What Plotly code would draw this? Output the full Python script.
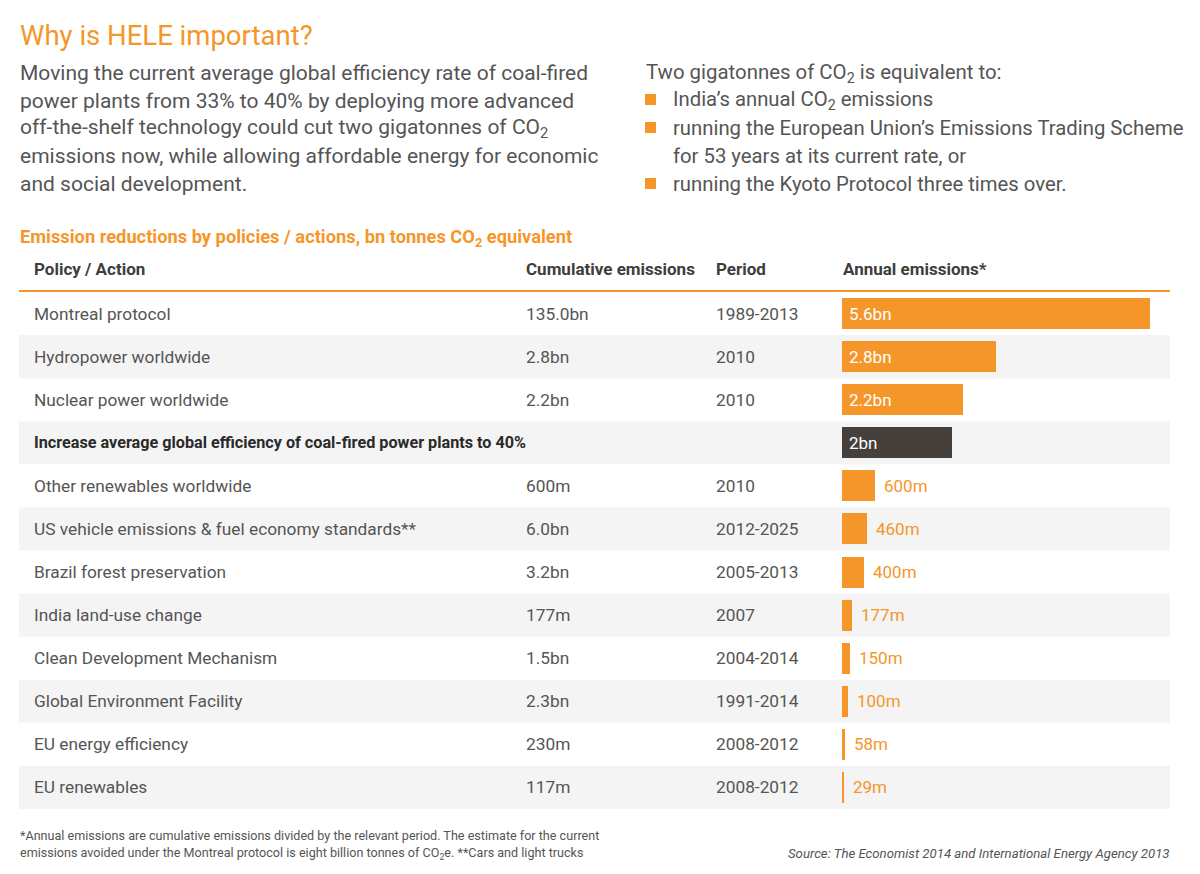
import plotly.graph_objects as go

W, H = 1200, 874

policies = [
    "Montreal protocol",
    "Hydropower worldwide",
    "Nuclear power worldwide",
    "Increase average global efficiency of coal-fired power plants to 40%",
    "Other renewables worldwide",
    "US vehicle emissions & fuel economy standards**",
    "Brazil forest preservation",
    "India land-use change",
    "Clean Development Mechanism",
    "Global Environment Facility",
    "EU energy efficiency",
    "EU renewables",
]
cumulative = ["135.0bn", "2.8bn", "2.2bn", "", "600m", "6.0bn", "3.2bn", "177m",
              "1.5bn", "2.3bn", "230m", "117m"]
periods = ["1989-2013", "2010", "2010", "", "2010", "2012-2025", "2005-2013", "2007",
           "2004-2014", "1991-2014", "2008-2012", "2008-2012"]
annual = [5.6, 2.8, 2.2, 2.0, 0.6, 0.46, 0.4, 0.177, 0.15, 0.1, 0.058, 0.029]
annual_labels = ["5.6bn", "2.8bn", "2.2bn", "2bn", "600m", "460m", "400m", "177m",
                 "150m", "100m", "58m", "29m"]
highlight = 3

ORANGE = "#F5962A"
DARK = "#45403B"
TEXT = "#555555"
HEAD = "#3d3d3d"
BAND = "#F4F4F4"
FONT = "Roboto"


def px(x):
    return x / W


def py(y):
    return 1 - y / H


rows = list(range(len(policies)))
bar_colors = [DARK if i == highlight else ORANGE for i in rows]

fig = go.Figure()
fig.add_trace(go.Bar(
    x=annual, y=rows, orientation="h", width=0.72,
    marker=dict(color=bar_colors, line=dict(width=0)),
    hoverinfo="skip", showlegend=False,
))

table_top, table_bot = 292, 809
x_left_px = 842
px_per_bn = 55.0

fig.update_layout(
    width=W, height=H,
    margin=dict(l=0, r=0, t=0, b=0),
    paper_bgcolor="white", plot_bgcolor="rgba(0,0,0,0)",
    font=dict(family=FONT, color=TEXT),
    xaxis=dict(domain=[px(x_left_px), 1], range=[0, (W - x_left_px) / px_per_bn],
               visible=False, fixedrange=True),
    yaxis=dict(domain=[py(table_bot), py(table_top)], range=[len(rows) - 0.5, -0.5],
               visible=False, fixedrange=True),
    bargap=0,
)

shapes = []
# row bands
for i in rows:
    if i % 2 == 1:
        shapes.append(dict(type="rect", xref="paper", yref="y",
                           x0=px(19), x1=px(1170), y0=i - 0.5, y1=i + 0.5,
                           fillcolor=BAND, line=dict(width=0), layer="below"))
# header line
shapes.append(dict(type="line", xref="paper", yref="paper",
                   x0=px(19), x1=px(1170), y0=py(291), y1=py(291),
                   line=dict(color=ORANGE, width=2)))
# bullets
for yb in [100, 128, 184]:
    shapes.append(dict(type="rect", xref="paper", yref="paper",
                       x0=px(645), x1=px(656), y0=py(yb - 6), y1=py(yb + 5),
                       fillcolor=ORANGE, line=dict(width=0)))

ann = []


def text(x, y, s, size, color=TEXT, anchor="left", bold=False, italic=False, family=FONT):
    if bold:
        s = "<b>" + s + "</b>"
    if italic:
        s = "<i>" + s + "</i>"
    ann.append(dict(x=px(x), y=py(y), xref="paper", yref="paper", text=s,
                    showarrow=False, xanchor=anchor, yanchor="middle",
                    font=dict(size=size, color=color, family=family)))


text(18, 35, "Why is HELE important?", 27.5, ORANGE)
body = [
    "Moving the current average global efficiency rate of coal-fired",
    "power plants from 33% to 40% by deploying more advanced",
    "off-the-shelf technology could cut two gigatonnes of CO<sub>2</sub>",
    "emissions now, while allowing affordable energy for economic",
    "and social development.",
]
for k, line in enumerate(body):
    text(18, 73 + k * 27.7, line, 21)

text(644, 73, "Two gigatonnes of CO<sub>2</sub> is equivalent to:", 20.4)
right = [
    (671, 100, "India’s annual CO<sub>2</sub> emissions"),
    (671, 128, "running the European Union’s Emissions Trading Scheme"),
    (671, 156, "for 53 years at its current rate, or"),
    (671, 184, "running the Kyoto Protocol three times over."),
]
for x, y, s in right:
    text(x, y, s, 20.3)

text(18, 238, "Emission reductions by policies / actions, bn tonnes CO<sub>2</sub> equivalent",
     18.3, ORANGE, bold=True)
text(32, 269, "Policy / Action", 17, HEAD, bold=True)
text(524, 269, "Cumulative emissions", 17, HEAD, bold=True)
text(714, 269, "Period", 17, HEAD, bold=True)
text(841, 269, "Annual emissions*", 17, HEAD, bold=True)

for i in rows:
    is_h = i == highlight
    ann.append(dict(x=px(32), y=i, xref="paper", yref="y",
                    text=("<b>" + policies[i] + "</b>") if is_h else policies[i],
                    showarrow=False, xanchor="left", yanchor="middle",
                    font=dict(size=16.2 if is_h else 17.3, color="#2a2a2a" if is_h else TEXT)))
    if cumulative[i]:
        ann.append(dict(x=px(524), y=i, xref="paper", yref="y", text=cumulative[i],
                        showarrow=False, xanchor="left", yanchor="middle",
                        font=dict(size=17.3, color=TEXT)))
    if periods[i]:
        ann.append(dict(x=px(714), y=i, xref="paper", yref="y", text=periods[i],
                        showarrow=False, xanchor="left", yanchor="middle",
                        font=dict(size=17.3, color=TEXT)))
    inside = annual[i] >= 2.0
    ann.append(dict(x=0 if inside else annual[i], y=i, xref="x", yref="y",
                    text=annual_labels[i], showarrow=False, xanchor="left",
                    yanchor="middle", xshift=5 if inside else 7,
                    font=dict(size=17, color="white" if inside else ORANGE)))

text(18, 835, "*Annual emissions are cumulative emissions divided by the relevant period. "
     "The estimate for the current", 12.6)
text(18, 853, "emissions avoided under the Montreal protocol is eight billion tonnes of "
     "CO<sub>2</sub>e. **Cars and light trucks", 12.6)
text(1172, 853, "Source: The Economist 2014 and International Energy Agency 2013", 13.2,
     anchor="right", italic=True)

fig.update_layout(shapes=shapes, annotations=ann)
fig.write_html("out.html",
               config={"displayModeBar": False},
               post_script="document.body.style.margin='0';"
                           "document.body.style.overflow='hidden';")
